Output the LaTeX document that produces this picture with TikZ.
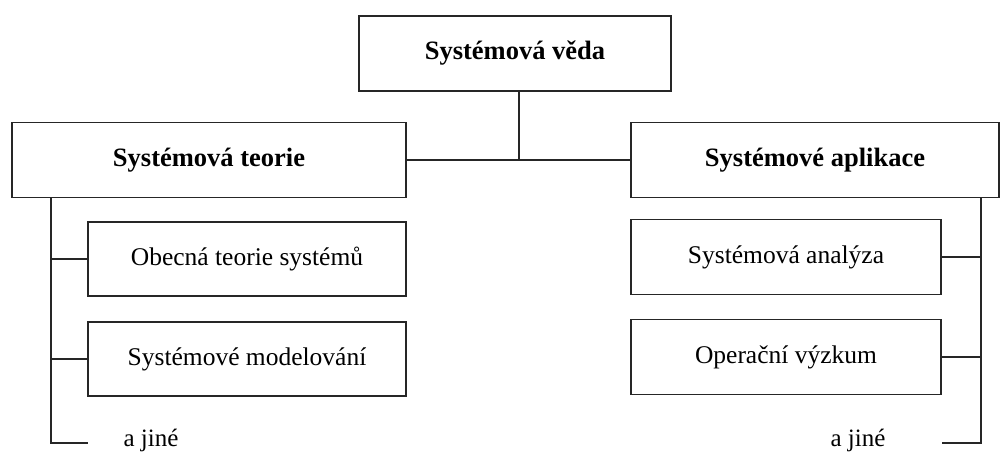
\documentclass[tikz,border=0pt]{standalone}
\usepackage{fontspec}
\setmainfont{Liberation Serif}
\begin{document}
\begin{tikzpicture}[x=1pt,y=-1pt,
  box/.style={draw=black!85, line width=1.5pt, fill=white, minimum height=75pt, inner sep=0pt},
  head/.style={box, font=\fontsize{26.5}{31}\selectfont\bfseries},
  item/.style={box, font=\fontsize{25.5}{30}\selectfont},
  note/.style={inner sep=0pt, font=\fontsize{25}{30}\selectfont},
  link/.style={draw=black!85, line width=1.6pt}]
\useasboundingbox (0,0) rectangle (1002,452);

% root and the two main branches
\node[head, minimum width=312pt] (veda) at (515,53.5) {Systémová věda};
\node[head, minimum width=394pt] (teorie) at (209,160) {Systémová teorie};
\node[head, minimum width=368pt] (aplikace) at (815,160) {Systémové aplikace};

% sub-fields
\node[item, minimum width=318pt, minimum height=74pt] (obecna) at (247,259) {Obecná teorie systémů};
\node[item, minimum width=318pt, minimum height=74pt] (model) at (247,359) {Systémové modelování};
\node[item, minimum width=310pt] (analyza) at (786,257) {Systémová analýza};
\node[item, minimum width=310pt] (vyzkum) at (786,357) {Operační výzkum};

\node[note] (jineL) at (151,440) {a jiné};
\node[note] (jineR) at (858,440) {a jiné};

% junctions and trunk ends
\coordinate (j) at (519,160);
\coordinate (tl) at (51,198);
\coordinate (bl) at (51,443);
\coordinate (el) at (88,443);
\coordinate (tr) at (981,197);
\coordinate (br) at (981,443);
\coordinate (er) at (942,443);

% connectors
\draw[link] (veda.south -| j) -- (j);
\draw[link] (teorie.east) -- (aplikace.west);
\draw[link] (tl) -- (bl) -- (el);
\draw[link] (obecna.west) -- (obecna.west -| tl);
\draw[link] (model.west) -- (model.west -| tl);
\draw[link] (tr) -- (br) -- (er);
\draw[link] (analyza.east) -- (analyza.east -| tr);
\draw[link] (vyzkum.east) -- (vyzkum.east -| tr);
\end{tikzpicture}
\end{document}
